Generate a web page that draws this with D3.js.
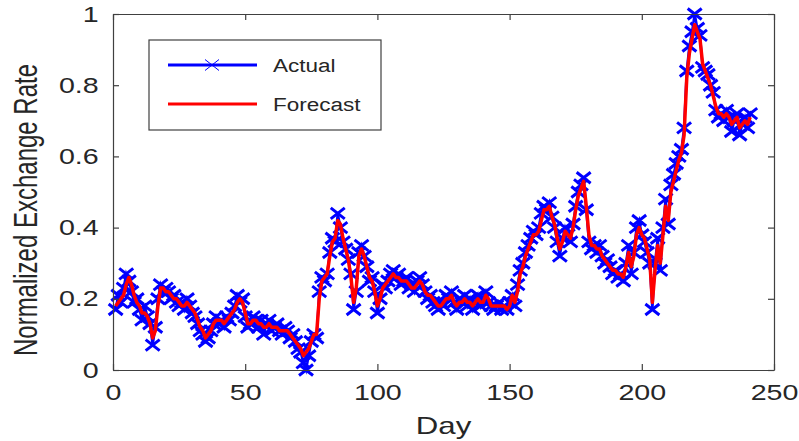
<!doctype html>
<html lang="en">
<head>
<meta charset="UTF-8" />
<title>Actual vs Forecast</title>
<script src="https://d3js.org/d3.v7.min.js"></script>
<style>
  body { margin: 0; background: #fff; }
  text { font-family: "Liberation Sans", Arial, sans-serif; fill: #262626; }
</style>
</head>
<body>
<div id="chart"></div>
<script>
// values, one per day (day 1 .. 241)
var actual = [
  0.17, 0.21, 0.19, 0.23, 0.27, 0.25, 0.22, 0.19, 0.20, 0.17,
  0.14, 0.18, 0.15, 0.13, 0.07, 0.12, 0.20, 0.24, 0.22, 0.23,
  0.22, 0.20, 0.21, 0.19, 0.18, 0.19, 0.17, 0.20, 0.18, 0.16,
  0.15, 0.13, 0.11, 0.10, 0.08, 0.09, 0.11, 0.13, 0.15, 0.13,
  0.14, 0.12, 0.15, 0.14, 0.16, 0.18, 0.21, 0.19, 0.20, 0.15,
  0.12, 0.13, 0.15, 0.14, 0.12, 0.14, 0.10, 0.13, 0.14, 0.11,
  0.12, 0.13, 0.11, 0.10, 0.12, 0.11, 0.09, 0.10, 0.08, 0.06,
  0.05, 0.02, 0.00, 0.04, 0.08, 0.10, 0.09, 0.22, 0.26, 0.25,
  0.27, 0.33, 0.37, 0.36, 0.44, 0.40, 0.36, 0.34, 0.31, 0.27,
  0.17, 0.22, 0.33, 0.35, 0.32, 0.29, 0.25, 0.26, 0.22, 0.16,
  0.20, 0.24, 0.23, 0.25, 0.27, 0.28, 0.26, 0.27, 0.24, 0.25,
  0.26, 0.23, 0.24, 0.22, 0.25, 0.26, 0.24, 0.22, 0.20, 0.21,
  0.19, 0.18, 0.17, 0.19, 0.18, 0.21, 0.20, 0.22, 0.19, 0.17,
  0.20, 0.19, 0.21, 0.18, 0.20, 0.17, 0.19, 0.21, 0.18, 0.20,
  0.22, 0.19, 0.18, 0.17, 0.18, 0.19, 0.17, 0.18, 0.17, 0.19,
  0.21, 0.18, 0.24, 0.28, 0.30, 0.33, 0.35, 0.37, 0.39, 0.38,
  0.40, 0.44, 0.46, 0.45, 0.47, 0.43, 0.40, 0.36, 0.32, 0.37,
  0.40, 0.38, 0.36, 0.41, 0.46, 0.50, 0.52, 0.54, 0.45, 0.36,
  0.34, 0.35, 0.33, 0.35, 0.32, 0.30, 0.31, 0.29, 0.27, 0.28,
  0.26, 0.27, 0.25, 0.30, 0.35, 0.27, 0.33, 0.40, 0.42, 0.38,
  0.36, 0.33, 0.30, 0.17, 0.30, 0.37, 0.28, 0.40, 0.48, 0.41,
  0.52, 0.55, 0.58, 0.60, 0.62, 0.68, 0.84, 0.91, 0.95, 1.00,
  0.96, 0.94, 0.85, 0.84, 0.83, 0.80, 0.78, 0.73, 0.71, 0.72,
  0.70, 0.73, 0.71, 0.67, 0.70, 0.72, 0.66, 0.69, 0.71, 0.68, 0.72
];

var forecast = [
  0.18, 0.19, 0.20, 0.21, 0.24, 0.26, 0.24, 0.21, 0.19, 0.18,
  0.16, 0.16, 0.15, 0.13, 0.09, 0.11, 0.18, 0.23, 0.23, 0.22,
  0.22, 0.21, 0.20, 0.20, 0.19, 0.18, 0.18, 0.19, 0.18, 0.17,
  0.16, 0.14, 0.12, 0.11, 0.09, 0.10, 0.11, 0.13, 0.14, 0.14,
  0.14, 0.13, 0.14, 0.15, 0.16, 0.17, 0.19, 0.20, 0.19, 0.16,
  0.13, 0.13, 0.14, 0.14, 0.13, 0.13, 0.12, 0.12, 0.13, 0.12,
  0.12, 0.12, 0.11, 0.11, 0.11, 0.11, 0.10, 0.09, 0.08, 0.07,
  0.06, 0.04, 0.05, 0.06, 0.08, 0.10, 0.10, 0.20, 0.25, 0.26,
  0.27, 0.32, 0.36, 0.37, 0.42, 0.41, 0.37, 0.34, 0.31, 0.26,
  0.19, 0.23, 0.32, 0.34, 0.32, 0.29, 0.26, 0.25, 0.22, 0.18,
  0.20, 0.23, 0.24, 0.25, 0.26, 0.27, 0.26, 0.26, 0.25, 0.25,
  0.25, 0.24, 0.23, 0.23, 0.24, 0.25, 0.24, 0.22, 0.21, 0.21,
  0.20, 0.19, 0.18, 0.18, 0.19, 0.20, 0.20, 0.21, 0.19, 0.18,
  0.19, 0.19, 0.20, 0.19, 0.19, 0.18, 0.19, 0.20, 0.19, 0.19,
  0.21, 0.20, 0.18, 0.18, 0.18, 0.18, 0.18, 0.18, 0.17, 0.18,
  0.21, 0.19, 0.22, 0.27, 0.29, 0.32, 0.34, 0.36, 0.38, 0.38,
  0.39, 0.42, 0.45, 0.45, 0.46, 0.43, 0.41, 0.37, 0.34, 0.36,
  0.39, 0.38, 0.37, 0.40, 0.45, 0.49, 0.51, 0.53, 0.46, 0.38,
  0.35, 0.35, 0.34, 0.34, 0.32, 0.31, 0.30, 0.29, 0.28, 0.28,
  0.27, 0.27, 0.26, 0.29, 0.33, 0.29, 0.32, 0.38, 0.40, 0.38,
  0.37, 0.34, 0.31, 0.19, 0.28, 0.35, 0.30, 0.38, 0.46, 0.42,
  0.50, 0.53, 0.56, 0.59, 0.61, 0.66, 0.82, 0.89, 0.93, 0.97,
  0.95, 0.93, 0.86, 0.84, 0.82, 0.80, 0.77, 0.74, 0.72, 0.72,
  0.71, 0.72, 0.71, 0.69, 0.70, 0.71, 0.68, 0.69, 0.70, 0.69, 0.71
];

var xTicks = [0, 50, 100, 150, 200, 250];
var yTicks = [0, 0.2, 0.4, 0.6, 0.8, 1];
var seriesNames = ['Actual', 'Forecast'];

var width = 799, height = 441;
var plotL = 113, plotR = 774, plotT = 14, plotB = 370;
var stretch = 1.3; // the reference is squeezed wide, so the text is too

var svg = d3.select('#chart').append('svg')
    .attr('width', width)
    .attr('height', height);

var x = d3.scaleLinear().domain([0, 250]).range([plotL, plotR]);
var y = d3.scaleLinear().domain([0, 1]).range([plotB, plotT]);

var pts = actual.map(function (v, i) { return { day: i + 1, a: v, f: forecast[i] }; });

// the series
var line = d3.line().x(function (d) { return x(d.day); });

svg.append('path')
    .datum(pts)
    .attr('fill', 'none')
    .attr('stroke', '#0000ff')
    .attr('stroke-width', 2.5)
    .attr('d', line.y(function (d) { return y(d.a); }));

svg.append('g').selectAll('path')
    .data(pts)
    .enter()
    .append('path')
    .attr('transform', function (d) { return 'translate(' + x(d.day) + ',' + y(d.a) + ')'; })
    .attr('d', 'M-7,-5.5L7,5.5M-7,5.5L7,-5.5')
    .attr('stroke', '#0000ff')
    .attr('stroke-width', 3)
    .attr('fill', 'none');

svg.append('path')
    .datum(pts)
    .attr('fill', 'none')
    .attr('stroke', '#ff0000')
    .attr('stroke-width', 3.5)
    .attr('stroke-linejoin', 'round')
    .attr('d', line.y(function (d) { return y(d.f); }));

// axes, box style with ticks pointing inwards
function styleAxis(g) {
    g.select('.domain').attr('stroke', '#404040').attr('stroke-width', 1.2);
    g.selectAll('.tick line').attr('stroke', '#404040').attr('stroke-width', 1.2);
}

function styleLabels(g) {
    g.selectAll('.tick text')
        .attr('font-size', 22)
        .attr('fill', '#262626')
        .attr('font-family', '"Liberation Sans", Arial, sans-serif')
        .attr('transform', 'scale(' + stretch + ',1)');
}

svg.append('g')
    .attr('transform', 'translate(0,' + plotB + ')')
    .call(d3.axisBottom(x).tickValues(xTicks).tickSize(-6).tickSizeOuter(0).tickPadding(14))
    .call(styleAxis)
    .call(styleLabels);

svg.append('g')
    .attr('transform', 'translate(0,' + plotT + ')')
    .call(d3.axisTop(x).tickValues(xTicks).tickSize(-6).tickSizeOuter(0).tickFormat(''))
    .call(styleAxis);

svg.append('g')
    .attr('transform', 'translate(' + plotL + ',0)')
    .call(d3.axisLeft(y).tickValues(yTicks).tickSize(-6).tickSizeOuter(0).tickPadding(11)
        .tickFormat(function (d) { return d === 0 || d === 1 ? d3.format('d')(d) : d3.format('.1f')(d); }))
    .call(styleAxis)
    .call(styleLabels);

svg.append('g')
    .attr('transform', 'translate(' + plotR + ',0)')
    .call(d3.axisRight(y).tickValues(yTicks).tickSize(-6).tickSizeOuter(0).tickFormat(''))
    .call(styleAxis);

// axis titles
svg.append('text')
    .attr('transform', 'translate(' + ((plotL + plotR) / 2) + ',434) scale(' + stretch + ',1)')
    .attr('text-anchor', 'middle')
    .attr('font-size', 24)
    .text('Day');

svg.append('text')
    .attr('transform', 'translate(37,' + ((plotT + plotB) / 2 + 18) + ') scale(1.35,1) rotate(-90)')
    .attr('text-anchor', 'middle')
    .attr('font-size', 24)
    .text('Normalized Exchange Rate');

// legend
var legend = svg.append('g').attr('transform', 'translate(149,40)');

legend.append('rect')
    .attr('width', 232)
    .attr('height', 90)
    .attr('fill', '#fff')
    .attr('stroke', '#404040')
    .attr('stroke-width', 1.2);

var legendColors = ['#0000ff', '#ff0000'];
seriesNames.forEach(function (name, i) {
    var ly = 25 + i * 39;
    legend.append('line')
        .attr('x1', 19).attr('x2', 108)
        .attr('y1', ly).attr('y2', ly)
        .attr('stroke', legendColors[i])
        .attr('stroke-width', 3);
    if (i === 0) {
        legend.append('path')
            .attr('transform', 'translate(63,' + ly + ')')
            .attr('d', 'M-7,-5.5L7,5.5M-7,5.5L7,-5.5')
            .attr('stroke', '#0000ff')
            .attr('stroke-width', 1);
    }
    legend.append('text')
        .attr('transform', 'translate(124,' + (ly + 7) + ') scale(1.25,1)')
        .attr('font-size', 18)
        .text(name);
});
</script>
</body>
</html>
